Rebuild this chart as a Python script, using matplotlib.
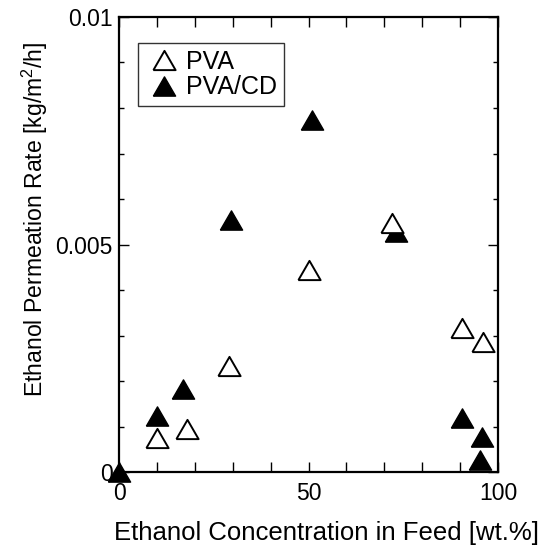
import numpy as np
import matplotlib
matplotlib.use("Agg")
import matplotlib.pyplot as plt
from matplotlib.ticker import MultipleLocator, FixedLocator

# ── data ─────────────────────────────────────────────────────────────────────
pva_x = [10, 18, 29, 50, 72, 90.5, 96]
pva_y = [0.00074, 0.00094, 0.00234, 0.00445, 0.00548, 0.00317, 0.00286]

cd_x = [0, 10, 17, 29.5, 51, 73, 90.5, 95.3, 95.8]
cd_y = [0.0, 0.00122, 0.00183, 0.00554, 0.00774, 0.00528, 0.00118, 0.00026, 0.00076]

x_ticks = [0, 50, 100]
x_labels = ["0", "50", "100"]
y_ticks = [0, 0.005, 0.01]
y_labels = ["0", "0.005", "0.01"]

plt.rcParams["font.family"] = ["Liberation Sans", "DejaVu Sans"]
plt.rcParams["mathtext.fontset"] = "custom"
plt.rcParams["mathtext.rm"] = "Liberation Sans"

# equilateral triangle, centred on its bounding box
TRI = [(-1, -0.866), (1, -0.866), (0, 0.866), (-1, -0.866)]

W, H = 544, 546
fig = plt.figure(figsize=(W / 100, H / 100), dpi=100)
ax = fig.add_axes([119 / W, 1 - 472 / H, 379 / W, 455 / H])

# filled first so the open PVA marker at ~72 % sits on top
ax.plot(cd_x, cd_y, linestyle="none", marker=TRI, markersize=16,
        markerfacecolor="black", markeredgecolor="black", markeredgewidth=1.0,
        clip_on=False, zorder=3, label="PVA/CD")
ax.plot(pva_x, pva_y, linestyle="none", marker=TRI, markersize=16,
        markerfacecolor="white", markeredgecolor="black", markeredgewidth=1.4,
        clip_on=False, zorder=4, label="PVA")

ax.set_xlim(0, 100)
ax.set_ylim(0, 0.01)

ax.xaxis.set_major_locator(FixedLocator(x_ticks))
ax.set_xticklabels(x_labels)
ax.xaxis.set_minor_locator(MultipleLocator(10))
ax.yaxis.set_major_locator(FixedLocator(y_ticks))
ax.set_yticklabels(y_labels)
ax.yaxis.set_minor_locator(MultipleLocator(0.001))

ax.tick_params(which="both", direction="in", top=True, right=True,
               labelsize=16.5, width=1.0)
ax.tick_params(axis="x", which="both", length=7, pad=7.5)
ax.tick_params(axis="y", which="major", length=7, pad=4.5)
ax.tick_params(axis="y", which="minor", length=3.6)

for sp in ax.spines.values():
    sp.set_linewidth(1.6)

fig.text(326 / W, 1 - 540 / H, "Ethanol Concentration in Feed [wt.%]",
         ha="center", va="baseline", fontsize=18.5)
fig.text(43 / W, 1 - 219 / H, "Ethanol Permeation Rate [kg/m$^2$/h]",
         rotation=90, rotation_mode="anchor", ha="center", va="baseline",
         fontsize=16.6)

h, l = ax.get_legend_handles_labels()
leg = ax.legend(h[::-1], l[::-1], loc="upper left",
                bbox_to_anchor=((138 - 119) / 379, (472 - 43) / 455),
                borderaxespad=0, fancybox=False, frameon=True, fontsize=18,
                handlelength=1.5, handletextpad=0.15, borderpad=0.28,
                labelspacing=0.05)
leg.get_frame().set_edgecolor("black")
leg.get_frame().set_linewidth(1.0)

fig.savefig("out.png", dpi=100)
